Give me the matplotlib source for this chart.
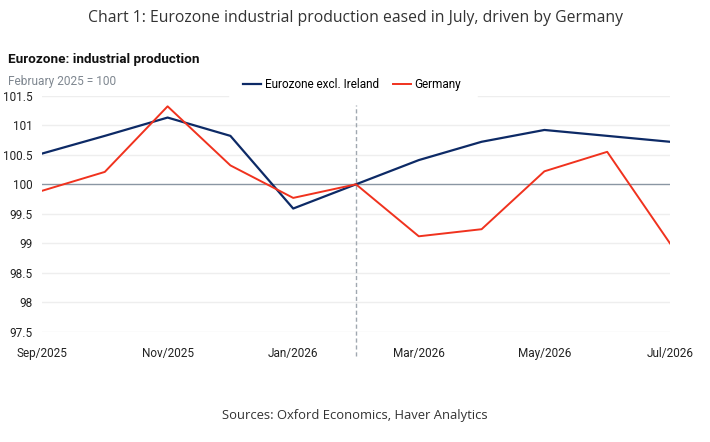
import matplotlib.pyplot as plt

months = ['Sep/2025', 'Oct/2025', 'Nov/2025', 'Dec/2025', 'Jan/2026', 'Feb/2026',
          'Mar/2026', 'Apr/2026', 'May/2026', 'Jun/2026', 'Jul/2026']
eurozone = [100.52, 100.82, 101.13, 100.82, 99.59, 100.0, 100.41, 100.72, 100.92, 100.82, 100.72]
germany = [99.89, 100.21, 101.32, 100.32, 99.77, 100.0, 99.12, 99.24, 100.22, 100.55, 99.0]
yticks = [97.5, 98, 98.5, 99, 99.5, 100, 100.5, 101, 101.5]
ytick_labels = ['97.5', '98', '98.5', '99', '99.5', '100', '100.5', '101', '101.5']

plt.rcParams['font.family'] = ['Roboto', 'DejaVu Sans']

fig = plt.figure(figsize=(7.1, 4.42), dpi=100)
ax = fig.add_axes([42 / 710, 1 - 332 / 442, 628 / 710, (332 - 95.7) / 442])

x = list(range(len(months)))
ax.plot(x, eurozone, color='#0d2a66', lw=1.6, label='Eurozone excl. Ireland', zorder=3)
ax.plot(x, germany, color='#f0321e', lw=1.4, label='Germany', zorder=3)

ax.set_xlim(0, len(months) - 1)
ax.set_ylim(97.5, 101.5)
ax.set_yticks(yticks)
ax.set_yticklabels(ytick_labels)
ax.set_xticks(x[::2])
ax.set_xticklabels(months[::2])
for y in yticks:
    if y == 100:
        ax.axhline(y, color='#8a96a3', lw=1.0, zorder=2)
    elif y == 101.5:
        # top gridline is hidden behind the legend box
        ax.axhline(y, xmax=(228 - 42) / 628, color='#eeeeee', lw=1.0, zorder=1)
        ax.axhline(y, xmin=(478 - 42) / 628, color='#eeeeee', lw=1.0, zorder=1)
    else:
        ax.axhline(y, color='#eeeeee', lw=1.0, zorder=1)

# dashed divider at Feb/2026
ax.axvline(months.index('Feb/2026'), ymin=-0.1, ymax=0.96, color='#a0a8b0',
           lw=1.0, ls=(0, (3, 2)), clip_on=False, zorder=2)

for s in ax.spines.values():
    s.set_visible(False)
ax.tick_params(length=0, labelsize=8.5, colors='#222222')
ax.tick_params(axis='y', pad=7)
ax.tick_params(axis='x', pad=11)

leg = ax.legend(loc='lower left', bbox_to_anchor=(241 / 710, 1 - 93 / 442),
                bbox_transform=fig.transFigure, ncol=2, frameon=True, fontsize=8.5,
                handlelength=1.5, handletextpad=0.3, columnspacing=1.2,
                borderaxespad=0, borderpad=0.2)
leg.get_frame().set_edgecolor('white')
leg.get_frame().set_facecolor('white')
leg.get_frame().set_alpha(1)

fig.text(0.5, 1 - 18 / 442, 'Chart 1: Eurozone industrial production eased in July, driven by Germany',
         ha='center', va='center', fontsize=11.3, color='#333333', family=['Open Sans', 'DejaVu Sans'])
fig.text(8 / 710, 1 - 60 / 442, 'Eurozone: industrial production', ha='left', va='center',
         fontsize=9.7, fontweight='bold', color='#111111')
fig.text(8 / 710, 1 - 82 / 442, 'February 2025 = 100', ha='left', va='center',
         fontsize=8.6, color='#7f8790')
fig.text(0.5, 1 - 415 / 442, 'Sources: Oxford Economics, Haver Analytics', ha='center', va='center',
         fontsize=9.4, color='#333333', family=['Open Sans', 'DejaVu Sans'])

fig.savefig('out.png', dpi=100, facecolor='white')
